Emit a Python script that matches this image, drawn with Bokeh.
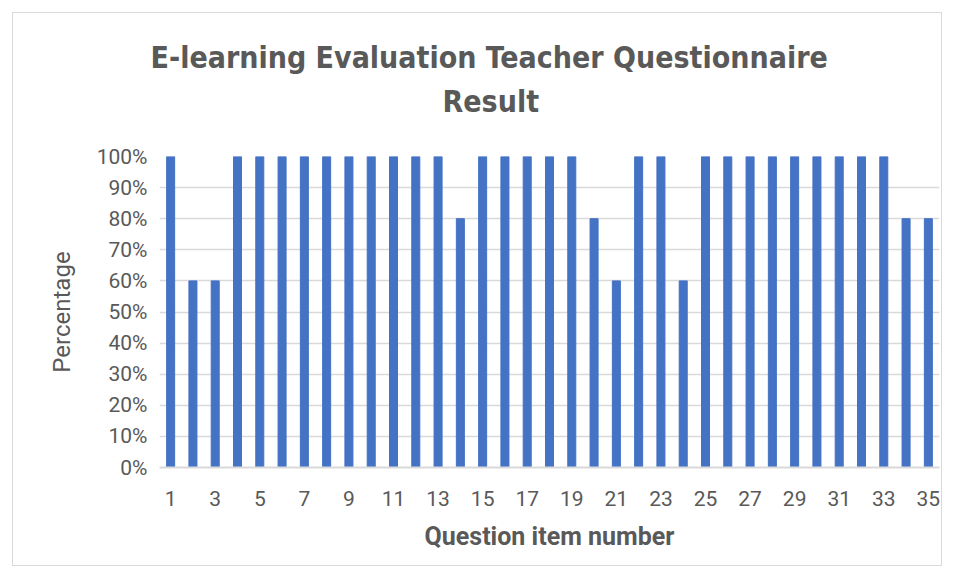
from bokeh.plotting import figure
from bokeh.models import ColumnDataSource, Range1d, FixedTicker, NumeralTickFormatter, Title
from bokeh.embed import file_html
from bokeh.resources import INLINE

items = list(range(1, 36))
percent = [100, 60, 60, 100, 100, 100, 100, 100, 100, 100,
           100, 100, 100, 80, 100, 100, 100, 100, 100, 80,
           60, 100, 100, 60, 100, 100, 100, 100, 100, 100,
           100, 100, 100, 80, 80]
x_ticks = list(range(1, 36, 2))
y_ticks = [0, 10, 20, 30, 40, 50, 60, 70, 80, 90, 100]

TXT = "#595959"
GRID = "#d9d9d9"
BAR = "#4472C4"
TFONT = "DejaVu Sans Condensed"

src = ColumnDataSource(data=dict(x=items, y=[v / 100 for v in percent]))

p = figure(width=930, height=554, output_backend="svg", toolbar_location=None,
           x_range=Range1d(0.5, 35.5), y_range=Range1d(0, 1),
           min_border_left=146, min_border_right=4, min_border_top=143, min_border_bottom=100,
           margin=(12, 0, 0, 12), styles={"border": "1px solid #d9d9d9"})
p.outline_line_color = None

p.vbar(x="x", top="y", width=0.36, bottom=0, source=src, fill_color=BAR, line_color=BAR)

p.add_layout(Title(text="Result", align="left", offset=283, text_font=TFONT,
                   text_font_size="30px", text_font_style="bold", text_color=TXT, standoff=76), "above")
p.add_layout(Title(text="E-learning Evaluation Teacher Questionnaire", align="left", offset=-9,
                   text_font=TFONT, text_font_size="30px",
                   text_font_style="bold", text_color=TXT, standoff=-63), "above")

p.xaxis.ticker = FixedTicker(ticks=x_ticks)
p.yaxis.ticker = FixedTicker(ticks=[t / 100 for t in y_ticks])
p.yaxis.formatter = NumeralTickFormatter(format="0%")

for ax in (p.xaxis, p.yaxis):
    ax.major_tick_line_color = None
    ax.minor_tick_line_color = None
    ax.major_label_text_color = TXT
    ax.major_label_text_font = "Roboto"
    ax.major_label_text_font_size = "21px"
    ax.axis_label_text_color = TXT
    ax.axis_label_text_font = "Roboto"

p.xaxis.axis_line_color = GRID
p.xaxis.axis_line_width = 2
p.xaxis.major_label_standoff = 17
p.xaxis.axis_label = "Question item number"
p.xaxis.axis_label_text_font_style = "bold"
p.xaxis.axis_label_text_font_size = "25px"
p.xaxis.axis_label_standoff = 13

p.yaxis.axis_line_color = None
p.yaxis.major_label_standoff = 6
p.yaxis.axis_label = "Percentage"
p.yaxis.axis_label_text_font_style = "normal"
p.yaxis.axis_label_text_font_size = "24px"
p.yaxis.axis_label_standoff = 18

p.xgrid.grid_line_color = None
p.ygrid.grid_line_color = GRID
p.ygrid.grid_line_width = 1.5

open("out.html", "w").write(file_html(p, INLINE))
